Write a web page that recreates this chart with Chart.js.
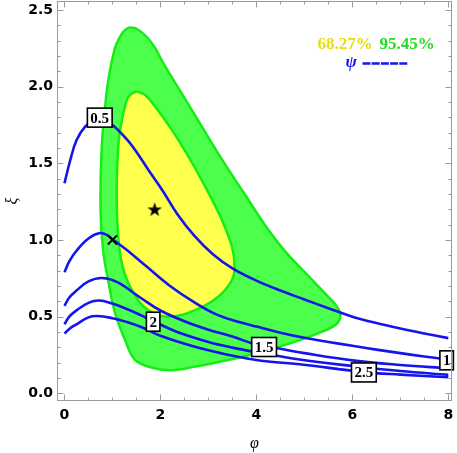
<!DOCTYPE html>
<html><head><meta charset="utf-8">
<script src="https://cdn.jsdelivr.net/npm/chart.js@4/dist/chart.umd.min.js"></script>
<style>html,body{margin:0;padding:0;background:#fff;}canvas{display:block;}</style>
</head><body>
<canvas id="c" width="457" height="453"></canvas>
<script>
// ---- tick labels ----
const xTicks = [0, 2, 4, 6, 8];
const yTicks = [0, 0.5, 1, 1.5, 2, 2.5];

// ---- 95.45% contour (phi, xi) ----
const c95X = [1.353,1.514,1.716,1.889,2.056,2.411,2.829,3.288,3.768,4.207,4.645,5.125,5.480,5.668,5.752,5.668,5.370,4.812,4.117,3.413,2.724,2.238,1.850,1.470,1.263,1.054,0.908,0.804,0.752,0.777,0.846,0.908,1.054,1.180,1.253,1.353];
const c95Y = [2.388,2.376,2.324,2.252,2.155,1.972,1.757,1.522,1.293,1.085,0.909,0.752,0.635,0.570,0.511,0.452,0.402,0.337,0.271,0.217,0.174,0.150,0.165,0.218,0.348,0.524,0.740,0.936,1.196,1.609,1.861,2.031,2.253,2.337,2.367,2.388];

// ---- 68.27% contour ----
const c68X = [1.507,1.681,1.889,2.238,2.585,2.933,3.282,3.491,3.545,3.491,3.205,2.724,2.161,1.743,1.403,1.194,1.111,1.090,1.102,1.159,1.299,1.388,1.507];
const c68Y = [1.969,1.946,1.870,1.718,1.543,1.348,1.130,0.956,0.826,0.739,0.630,0.543,0.500,0.543,0.674,0.850,1.065,1.280,1.502,1.718,1.913,1.952,1.969];

// ---- psi curves ----
const psi05X = [0,0.12,0.25,0.43,0.6,0.75,0.9,1.02,1.2,1.42,1.75,2.05,2.35,2.7,3.1,3.5,4.0,4.5,5.0,5.5,6.0,6.5,7.0,7.5,8.0];
const psi05Y = [1.37,1.52,1.65,1.74,1.77,1.775,1.77,1.745,1.69,1.61,1.457,1.32,1.17,1.03,0.905,0.815,0.735,0.67,0.612,0.555,0.5,0.458,0.422,0.39,0.36];
const psi1X = [0,0.1,0.25,0.5,0.74,0.9,1.0,1.3,1.7,2.2,2.7,3.2,3.7,4.0,4.5,5.0,5.5,6.0,6.5,7.0,7.5,8.0];
const psi1Y = [0.79,0.86,0.93,1.01,1.045,1.03,1.005,0.935,0.83,0.70,0.595,0.51,0.46,0.435,0.395,0.362,0.335,0.31,0.285,0.262,0.24,0.22];
const psi15X = [0,0.1,0.25,0.5,0.78,1.1,1.6,2.0,2.5,3.0,3.5,4.0,4.5,5.0,6.0,7.0,8.0];
const psi15Y = [0.57,0.625,0.67,0.73,0.752,0.725,0.62,0.54,0.47,0.415,0.37,0.318,0.29,0.262,0.215,0.185,0.163];
const psi2X = [0,0.1,0.25,0.5,0.72,1.0,1.3,1.6,1.85,2.35,3.0,3.5,4.0,4.9,6.0,7.0,8.0];
const psi2Y = [0.45,0.5,0.541,0.59,0.605,0.585,0.55,0.508,0.47,0.4,0.335,0.298,0.268,0.22,0.178,0.145,0.12];
const psi25X = [0,0.1,0.25,0.5,0.68,1.0,1.3,1.6,2.0,2.7,3.4,4.1,4.9,6.2,7.0,8.0];
const psi25Y = [0.389,0.42,0.45,0.495,0.504,0.49,0.465,0.432,0.375,0.305,0.252,0.212,0.19,0.14,0.122,0.105];

// ---- curve labels ----
const labelText = ['0.5', '2', '1.5', '2.5', '1'];
const labelX = [0.735, 1.848, 4.16, 6.24, 7.965];
const labelY = [1.798, 0.467, 0.302, 0.136, 0.215];

// ---- markers ----
const bestFit = [1.88, 1.2];
const refPoint = [1.0, 1.0];

// ---- legend ----
const legendTexts = ['68.27%', '95.45%'];
const psiLegend = 'ψ';

const pts = (xs, ys) => xs.map((x, i) => ({x: x, y: ys[i]}));

const BLUE = '#1414ee';
function curve(xs, ys) {
  return {data: pts(xs, ys), showLine: true, borderColor: BLUE, borderWidth: 2.6, pointRadius: 0,
    fill: false, tension: 0.4, order: 5};
}

// filled star image for the best-fit point
const starImg = document.createElement('canvas');
starImg.width = 16; starImg.height = 16;
(function () {
  const g = starImg.getContext('2d');
  g.fillStyle = '#000';
  g.beginPath();
  for (let i = 0; i < 10; i++) {
    const r = i % 2 === 0 ? 7.6 : 3.0;
    const a = -Math.PI / 2 + i * Math.PI / 5;
    const px = 8 + r * Math.cos(a), py = 8.6 + r * Math.sin(a);
    if (i === 0) g.moveTo(px, py); else g.lineTo(px, py);
  }
  g.closePath();
  g.fill();
})();

const framePlugin = {
  id: 'frame',
  afterDraw(chart) {
    const {ctx, chartArea: a, scales: {x, y}} = chart;
    ctx.save();
    ctx.strokeStyle = '#9a9a9a';
    ctx.lineWidth = 1;
    ctx.strokeRect(Math.round(a.left) + 0.5, Math.round(a.top) + 0.5, Math.round(a.right - a.left) - 1, Math.round(a.bottom - a.top) - 1);
    ctx.beginPath();
    for (let v = 0; v <= 8.0001; v += 0.5) {
      const p = Math.round(x.getPixelForValue(v)) + 0.5;
      const len = Math.abs(v / 2 - Math.round(v / 2)) < 1e-6 ? 6.5 : 3.5;
      ctx.moveTo(p, a.bottom); ctx.lineTo(p, a.bottom - len);
      ctx.moveTo(p, a.top); ctx.lineTo(p, a.top + len);
    }
    for (let k = 0; k <= 25; k++) {
      const v = k / 10;
      const p = Math.round(y.getPixelForValue(v)) + 0.5;
      const len = k % 5 === 0 ? 6.5 : 3.5;
      ctx.moveTo(a.left, p); ctx.lineTo(a.left + len, p);
      ctx.moveTo(a.right, p); ctx.lineTo(a.right - len, p);
    }
    ctx.stroke();

    // legend
    ctx.textBaseline = 'alphabetic';
    ctx.textAlign = 'left';
    ctx.font = 'bold 17px "Liberation Serif"';
    ctx.fillStyle = '#e6dc14';
    ctx.fillText(legendTexts[0], 317.5, 48.5);
    ctx.fillStyle = '#22dd22';
    ctx.fillText(legendTexts[1], 379.5, 48.5);
    ctx.fillStyle = BLUE;
    ctx.font = 'italic bold 17px "Liberation Serif"';
    ctx.fillText(psiLegend, 345.5, 67);
    ctx.strokeStyle = BLUE;
    ctx.lineWidth = 2.6;
    ctx.setLineDash([8, 1.2]);
    ctx.beginPath();
    ctx.moveTo(362.5, 63.5); ctx.lineTo(407.5, 63.5);
    ctx.stroke();
    ctx.restore();
  }
};

const labelPlugin = {
  id: 'curveLabels',
  afterDatasetsDraw(chart) {
    const {ctx, scales: {x, y}} = chart;
    ctx.save();
    ctx.font = 'bold 15px "Liberation Serif"';
    ctx.textAlign = 'center';
    ctx.textBaseline = 'middle';
    labelText.forEach((t, i) => {
      const cx = x.getPixelForValue(labelX[i]);
      const cy = y.getPixelForValue(labelY[i]);
      const w = ctx.measureText(t).width + 6;
      const h = 19;
      ctx.fillStyle = '#fff';
      ctx.fillRect(cx - w / 2, cy - h / 2, w, h);
      ctx.strokeStyle = '#000';
      ctx.lineWidth = 1.6;
      ctx.strokeRect(cx - w / 2, cy - h / 2, w, h);
      ctx.fillStyle = '#000';
      ctx.fillText(t, cx, cy + 1);
    });
    ctx.restore();
  }
};

function noPad(s) { s.paddingTop = 0; s.paddingBottom = 0; s.paddingLeft = 0; s.paddingRight = 0; }

new Chart(document.getElementById('c'), {
  type: 'scatter',
  data: {
    datasets: [
      {data: pts(c95X, c95Y), showLine: true, borderColor: '#14ee14', borderWidth: 2.5, backgroundColor: '#4dff4d',
        fill: 'shape', pointRadius: 0, tension: 0.4, order: 10},
      {data: pts(c68X, c68Y), showLine: true, borderColor: '#14ee14', borderWidth: 2.5, backgroundColor: '#ffff4d',
        fill: 'shape', pointRadius: 0, tension: 0.4, order: 9},
      curve(psi05X, psi05Y),
      curve(psi1X, psi1Y),
      curve(psi15X, psi15Y),
      curve(psi2X, psi2Y),
      curve(psi25X, psi25Y),
      {data: [{x: bestFit[0], y: bestFit[1]}], pointStyle: starImg, pointRadius: 8, order: 1},
      {data: [{x: refPoint[0], y: refPoint[1]}], pointStyle: 'crossRot', pointRadius: 6.5, borderColor: '#000', borderWidth: 2, order: 1}
    ]
  },
  options: {
    responsive: false, animation: false, devicePixelRatio: 1,
    layout: {autoPadding: false, padding: {top: 1, right: 5, left: 0, bottom: 0}},
    plugins: {legend: {display: false}, tooltip: {enabled: false}},
    scales: {
      x: {
        type: 'linear', min: -0.156, max: 8.077,
        afterBuildTicks: s => { s.ticks = xTicks.map(v => ({value: v})); },
        afterFit: s => { s.height = 52; noPad(s); },
        grid: {display: false, drawTicks: false}, border: {display: false},
        ticks: {font: {family: 'DejaVu Sans', weight: 'bold', size: 14}, color: '#000', padding: 6,
          autoSkip: false, maxRotation: 0, callback: v => String(v)},
        title: {display: true, text: 'φ', color: '#000', font: {family: 'Liberation Serif', style: 'italic', size: 16}, padding: {top: 0, bottom: 0}}
      },
      y: {
        type: 'linear', min: -0.0502, max: 2.5587,
        afterBuildTicks: s => { s.ticks = yTicks.map(v => ({value: v})); },
        afterFit: s => { s.width = 57; noPad(s); },
        grid: {display: false, drawTicks: false}, border: {display: false},
        ticks: {font: {family: 'DejaVu Sans', weight: 'bold', size: 14}, color: '#000', padding: 4,
          autoSkip: false, callback: v => Number(v).toFixed(1)},
        title: {display: true, text: 'ξ', color: '#000', font: {family: 'Liberation Serif', style: 'italic', size: 16}, padding: {top: 3, bottom: 0}}
      }
    }
  },
  plugins: [framePlugin, labelPlugin]
});
</script>
</body></html>
